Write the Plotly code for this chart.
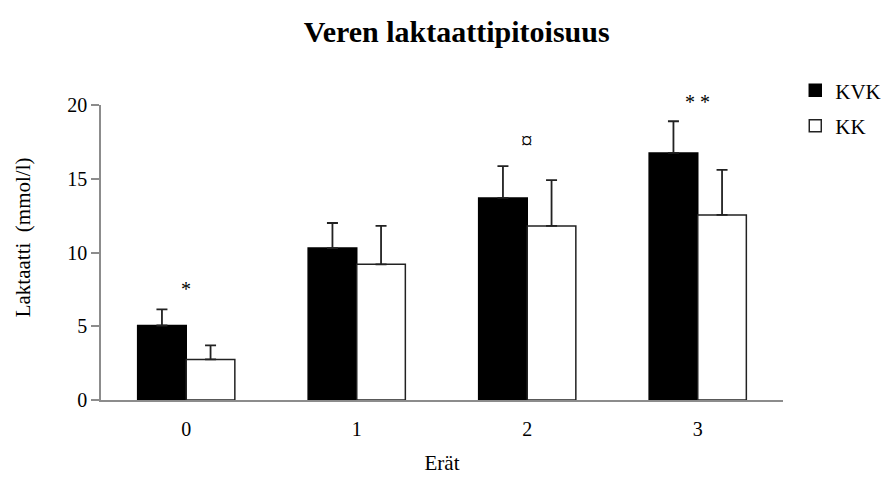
import plotly.graph_objects as go

# Blood lactate per set (mmol/l), mean and SD
categories = ["0", "1", "2", "3"]
kvk_mean = [5.05, 10.3, 13.7, 16.75]
kvk_sd = [1.1, 1.7, 2.15, 2.15]
kk_mean = [2.75, 9.2, 11.8, 12.55]
kk_sd = [0.95, 2.6, 3.1, 3.05]

# Significance markers above groups
marker_pos = ["0", "2", "3"]
marker_y = [7.55, 17.6, 20.2]
marker_text = ["*", "¤", "* *"]
marker_size = [20, 23, 20]

Y_MAX = 20
serif = "Liberation Serif, Times New Roman, serif"

fig = go.Figure()
fig.add_trace(go.Bar(
    x=categories, y=kvk_mean, name="KVK", legendgroup="a",
    marker=dict(color="black", line=dict(color="black", width=1.5)),
    error_y=dict(type="data", array=kvk_sd, arrayminus=[0] * 4, symmetric=False,
                 color="#222222", thickness=1.8, width=5.5),
))
fig.add_trace(go.Bar(
    x=categories, y=kk_mean, name="KK", legendgroup="b",
    marker=dict(color="white", line=dict(color="#222222", width=1.5)),
    error_y=dict(type="data", array=kk_sd, arrayminus=[0] * 4, symmetric=False,
                 color="#222222", thickness=1.8, width=5.5),
))

# Markers placed in axis-domain units so the one above the top tick is kept
for xp, yp, t, s in zip(marker_pos, marker_y, marker_text, marker_size):
    fig.add_annotation(x=xp, xref="x", y=yp / Y_MAX, yref="y domain",
                       xanchor="center", yanchor="middle",
                       text=t, showarrow=False,
                       font=dict(family=serif, size=s, color="black"))

# Y-axis title
fig.add_annotation(x=-0.115, xref="paper", y=0.55, yref="paper",
                   text="Laktaatti  (mmol/l)", textangle=-90, showarrow=False,
                   xanchor="center", yanchor="middle",
                   font=dict(family=serif, size=21, color="black"))

fig.update_layout(
    width=892, height=477,
    margin=dict(l=101, r=109, t=104.5, b=77, autoexpand=False),
    paper_bgcolor="white", plot_bgcolor="white",
    barmode="group", bargap=0.43, bargroupgap=0,
    title=dict(text="<b>Veren laktaattipitoisuus</b>", x=0.512, xanchor="center",
               y=0.935, yanchor="middle",
               font=dict(family=serif, size=30, color="black")),
    font=dict(family=serif, size=20, color="black"),
    legend=dict(x=1.018, y=1.118, xanchor="left", yanchor="top",
                traceorder="grouped", tracegroupgap=5,
                font=dict(family=serif, size=21, color="black"),
                bgcolor="rgba(0,0,0,0)"),
    xaxis=dict(showline=True, linecolor="#8c8c8c", linewidth=1.5,
               ticks="outside", ticklen=10, tickcolor="rgba(0,0,0,0)",
               showgrid=False, zeroline=False, automargin=False,
               title=dict(text="Erät", font=dict(family=serif, size=21), standoff=17),
               tickfont=dict(family=serif, size=20)),
    yaxis=dict(range=[0, Y_MAX], tickvals=[0, 5, 10, 15, 20],
               showline=True, linecolor="#8c8c8c", linewidth=1.5,
               ticks="outside", ticklen=8, tickcolor="#8c8c8c", tickwidth=1.5,
               showgrid=False, zeroline=False, automargin=False,
               tickfont=dict(family=serif, size=20)),
)

fig.write_html("out.html")
